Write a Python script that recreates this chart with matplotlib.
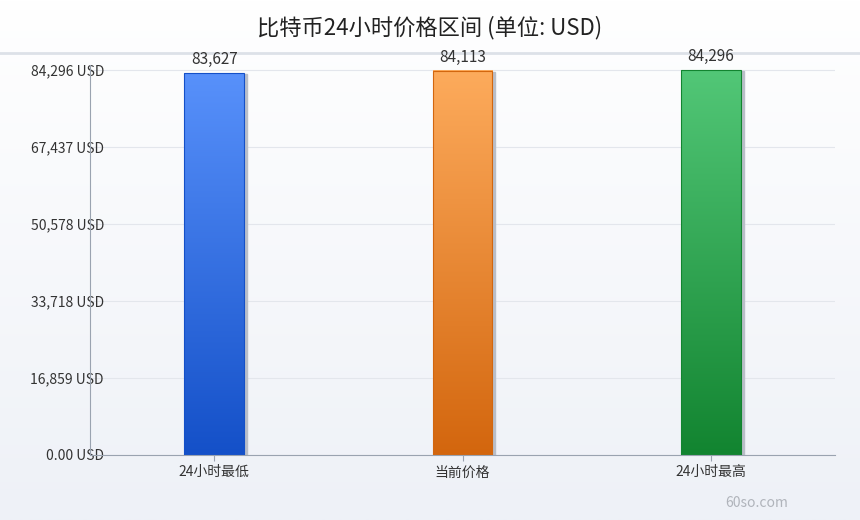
import numpy as np
import matplotlib.pyplot as plt
from matplotlib.patches import Rectangle
from matplotlib.colors import LinearSegmentedColormap

plt.rcParams['font.family'] = ['Noto Sans CJK SC', 'DejaVu Sans']

categories = ['24小时最低', '当前价格', '24小时最高']
values = [83627, 84113, 84296]
value_labels = ['83,627', '84,113', '84,296']
ytick_vals = [0, 16859, 33718, 50578, 67437, 84296]
ytick_labels = ['0.00 USD', '16,859 USD', '33,718 USD', '50,578 USD', '67,437 USD', '84,296 USD']
colors = [('#5891fb', '#1450c8'), ('#fdab5c', '#d3660e'), ('#52c777', '#128430')]

fig = plt.figure(figsize=(8.6, 5.2), dpi=100)
# background gradient
bg = fig.add_axes([0, 0, 1, 1], zorder=-10)
bg.imshow(np.linspace(0, 1, 256)[:, None], aspect='auto', extent=[0, 1, 0, 1],
          cmap=LinearSegmentedColormap.from_list('bg', ['#ffffff', '#eef1f7']))
bg.axhline(1 - 53 / 520, color='#dde1e8', lw=2)
bg.axis('off')

ax = fig.add_axes([90 / 860, 65 / 520, 745 / 860, 390 / 520])
ax.set_facecolor('none')
ax.set_xlim(-0.5, 2.5)
ymax = 84296 * 390 / 385
ax.set_ylim(0, ymax)

w = 0.24
for i, (v, (c1, c2)) in enumerate(zip(values, colors)):
    ax.add_patch(Rectangle((i - w / 2 + 0.012, 0), w, v * 0.997, color='#b9bec8', zorder=1))
    cmap = LinearSegmentedColormap.from_list('b', [c2, c1])
    im = ax.imshow(np.linspace(0, 1, 256)[:, None], aspect='auto', origin='lower',
                   extent=[i - w / 2, i + w / 2, 0, v], cmap=cmap, zorder=2)
    r = Rectangle((i - w / 2, 0), w, v, fill=False, ec=c2, lw=0.8, zorder=3)
    ax.add_patch(r)
    ax.text(i, v + ymax * 0.012, value_labels[i], ha='center', va='bottom', fontsize=11, color='#333333')

ax.set_xlim(-0.5, 2.5)
ax.set_ylim(0, ymax)
ax.set_yticks(ytick_vals)
ax.set_yticklabels(ytick_labels, fontsize=10, color='#333333')
ax.set_xticks(range(3))
ax.set_xticklabels(categories, fontsize=10, color='#333333')
ax.grid(axis='y', color='#e3e6ec', lw=0.8)
ax.set_axisbelow(True)
for s in ['top', 'right']:
    ax.spines[s].set_visible(False)
ax.spines['left'].set_color('#9aa3b0')
ax.spines['bottom'].set_color('#9aa3b0')
ax.tick_params(axis='y', length=0, pad=-12)
ax.tick_params(axis='x', length=4, color='#9aa3b0')
for lbl in ax.get_yticklabels():
    lbl.set_ha('right')
ax.tick_params(axis='y', pad=-10)

fig.text(0.5, 1 - 28 / 520, '比特币24小时价格区间 (单位: USD)', ha='center', va='center', fontsize=16, color='#222222')
fig.text(788 / 860, 1 - 503 / 520, '60so.com', ha='right', va='center', fontsize=10, color='#b0b4bb')

fig.savefig('out.png', dpi=100)
